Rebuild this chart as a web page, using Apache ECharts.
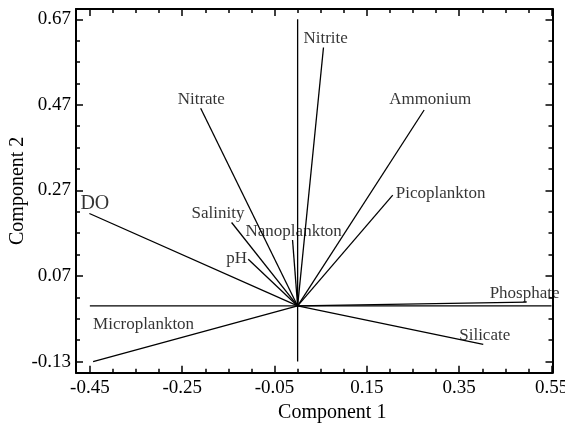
<!DOCTYPE html>
<html>
<head>
<meta charset="utf-8">
<script src="https://cdn.jsdelivr.net/npm/echarts@6/dist/echarts.min.js"></script>
<style>
html,body{margin:0;padding:0;background:#fff;}
#c{width:565px;height:430px;}
</style>
</head>
<body>
<div id="c"></div>
<script>
// ---- data ----
const variables = ['Nitrite','Nitrate','Ammonium','Picoplankton','DO','Salinity','Nanoplankton','pH','Microplankton','Phosphate','Silicate'];
const component1 = [0.056, -0.210, 0.274, 0.206, -0.451, -0.143, -0.011, -0.107, -0.443, 0.496, 0.402];
const component2 = [0.604, 0.462, 0.458, 0.259, 0.216, 0.195, 0.154, 0.109, -0.130, 0.009, -0.090];
const xTickLabels = [-0.45, -0.25, -0.05, 0.15, 0.35, 0.55];
const yTickLabels = [-0.13, 0.07, 0.27, 0.47, 0.67];
const crossX = [-0.45, 0.55];
const crossY = [-0.13, 0.67];

// ---- style ----
const FONT = 'Liberation Serif';
const labelStyle = {
  Nitrite: [-20, -8.5], Nitrate: [-23, -9], Ammonium: [-35, -10], Picoplankton: [3, -2],
  DO: [-9, -10, 20], Salinity: [-40, -9], Nanoplankton: [-47, -9], pH: [-22, -1],
  Microplankton: [0, -37], Phosphate: [-37, -9], Silicate: [-24, -9]
};

function minors(major, step, lo, hi) {
  const out = [];
  for (let v = major[0] - 4 * step; v <= major[major.length - 1] + 4 * step + 1e-9; v += step) {
    const r = Math.round(v * 100) / 100;
    if (r < lo || r > hi) continue;
    if (major.some(m => Math.abs(m - r) < 1e-6)) continue;
    out.push(r);
  }
  return out;
}
const XMIN = -0.48, XMAX = 0.552, YMIN = -0.156, YMAX = 0.694;
const xMinor = minors(xTickLabels, 0.05, XMIN, XMAX);
const yMinor = minors(yTickLabels, 0.05, YMIN, YMAX);

const lineCol = '#000';
const txtCol = '#000';
function xAx(pos, ticks, len, showLabel, showLine, extra) {
  return Object.assign({
    type: 'value', min: XMIN, max: XMAX, position: pos,
    axisLine: {show: showLine, onZero: false, lineStyle: {color: lineCol, width: 2}},
    axisTick: {show: true, inside: true, length: len, customValues: ticks, lineStyle: {color: lineCol, width: 1.5}},
    axisLabel: showLabel ? {show: true, customValues: ticks, margin: 6, color: txtCol, fontFamily: FONT, fontSize: 19,
      formatter: v => v.toFixed(2)} : {show: false},
    splitLine: {show: false}
  }, extra || {});
}
function yAx(pos, ticks, len, showLabel, showLine, extra) {
  return Object.assign({
    type: 'value', min: YMIN, max: YMAX, position: pos,
    axisLine: {show: showLine, onZero: false, lineStyle: {color: lineCol, width: 2}},
    axisTick: {show: true, inside: true, length: len, customValues: ticks, lineStyle: {color: lineCol, width: 1.5}},
    axisLabel: showLabel ? {show: true, customValues: ticks, margin: 5, color: txtCol, fontFamily: FONT, fontSize: 19,
      formatter: v => v.toFixed(2)} : {show: false},
    splitLine: {show: false}
  }, extra || {});
}

const series = [];
series.push({type: 'line', data: [[crossX[0], 0], [crossX[1], 0]], symbol: 'none', silent: true,
  lineStyle: {color: lineCol, width: 1.3}, z: 3});
series.push({type: 'line', data: [[0, crossY[0]], [0, crossY[1]]], symbol: 'none', silent: true,
  lineStyle: {color: lineCol, width: 1.3}, z: 3});
variables.forEach((n, i) => {
  series.push({type: 'line', name: n, data: [[0, 0], [component1[i], component2[i]]], symbol: 'none', silent: true,
    lineStyle: {color: lineCol, width: 1.3}, z: 3});
});
series.push({
  type: 'scatter', symbolSize: 1, itemStyle: {color: 'rgba(0,0,0,0)'}, silent: true, z: 5,
  data: variables.map((n, i) => {
    const s = labelStyle[n];
    return {value: [component1[i], component2[i]], name: n,
      label: {offset: [s[0], s[1]], fontSize: s[2] || 17}};
  }),
  label: {show: true, position: 'inside', align: 'left', verticalAlign: 'middle', formatter: '{b}',
    color: txtCol, fontFamily: FONT, fontSize: 17}
});

const chart = echarts.init(document.getElementById('c'), null, {renderer: 'canvas'});
chart.setOption({
  animation: false,
  backgroundColor: '#fff',
  grid: {left: 76, right: 12.5, top: 9, bottom: 57.3, containLabel: false, outerBoundsMode: 'none'},
  xAxis: [
    xAx('bottom', xTickLabels, 7, true, true, {name: 'Component 1', nameLocation: 'middle', nameGap: 30,
      nameMoveOverlap: false,
      nameTextStyle: {color: txtCol, fontFamily: FONT, fontSize: 20, padding: [0, 0, 0, 36]}}),
    xAx('bottom', xMinor, 4, false, false),
    xAx('top', xTickLabels, 7, false, true),
    xAx('top', xMinor, 4, false, false)
  ],
  yAxis: [
    yAx('left', yTickLabels, 7, true, true, {name: 'Component 2', nameLocation: 'middle', nameGap: 48,
      nameMoveOverlap: false,
      nameTextStyle: {color: txtCol, fontFamily: FONT, fontSize: 20}}),
    yAx('left', yMinor, 4, false, false),
    yAx('right', yTickLabels, 7, false, true),
    yAx('right', yMinor, 4, false, false)
  ],
  series: series
});
</script>
</body>
</html>
